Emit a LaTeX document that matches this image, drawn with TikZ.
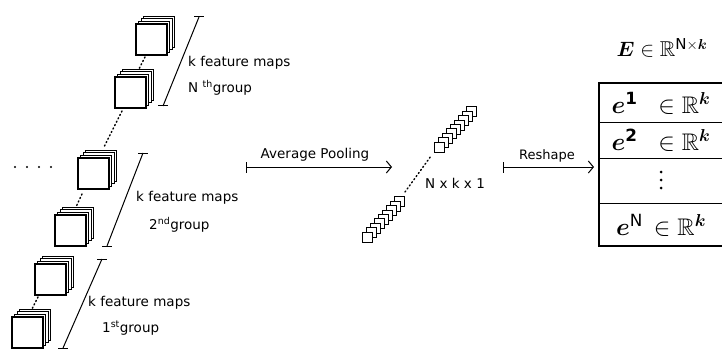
\documentclass[tikz,border=0pt]{standalone}
\usepackage{amsmath,amssymb,bm}
\usepackage{fontspec}
\setmainfont{DejaVu Sans}
\usetikzlibrary{arrows.meta}

\tikzset{
  % a stack of k feature maps: front map at the pic origin (top-left corner)
  fmstack/.pic={
    \foreach \i in {3,2,1}
      \draw[fill=white, line width=0.8pt] (2.6*\i,-2.6*\i) rectangle ++(31,31);
    \draw[fill=white, line width=1.3pt] (0,0) rectangle ++(31,31);
  },
  cube/.style={draw, fill=white, line width=0.9pt},
  dots/.style={line width=1.4pt, dash pattern=on 1.2pt off 2.6pt, line cap=round},
  bracket/.style={line width=1pt},
  lbl/.style={font=\fontsize{13.5}{15}\selectfont, inner sep=0pt},
  arrowlbl/.style={font=\fontsize{13.5}{15}\selectfont, inner sep=0pt},
  flow/.style={line width=1pt, {Bar[width=11pt]}-{Straight Barb[length=5pt,width=12pt]}},
  mathcell/.style={font=\fontsize{24}{28}\selectfont, inner sep=0pt},
}

\begin{document}
\begin{tikzpicture}[x=1pt,y=-1pt]
\useasboundingbox (0,0) rectangle (722,350);

% ---------------- N-th group ----------------
\pic at (136,24) {fmstack};
\pic at (115,77) {fmstack};
\draw[dots] (145,57) -- (139,69);
\draw[dots] (122,111) -- (104,147);
\coordinate (nt) at (199,17);
\coordinate (nb) at (163,106);
\draw[bracket] (nt) -- (nb);
\draw[bracket] ([xshift=-5pt]nt) -- ([xshift=5pt]nt);
\draw[bracket] ([xshift=-5pt]nb) -- ([xshift=5pt]nb);
\node[lbl, anchor=west] (nlab1) at (188,63) {k feature maps};
\node[lbl, anchor=west] (nlab2) at (188,88) {N \textsuperscript{th}group};

% ---------------- 2nd group ----------------
\foreach \j in {0,1,2,3}
  \fill (15+12*\j,167) circle (1.1pt);
\pic at (78,158) {fmstack};
\pic at (55,215) {fmstack};
\draw[dots] (82,194) -- (76,207);
\coordinate (st) at (143,153);
\coordinate (sb) at (107,246);
\draw[bracket] (st) -- (sb);
\draw[bracket] ([xshift=-5pt]st) -- ([xshift=5pt]st);
\draw[bracket] ([xshift=-5pt]sb) -- ([xshift=5pt]sb);
\node[lbl, anchor=west] (slab1) at (136,198) {k feature maps};
\node[lbl, anchor=west] (slab2) at (149,225) {2\textsuperscript{nd}group};

% ---------------- 1st group ----------------
\pic at (35,264) {fmstack};
\pic at (12,317) {fmstack};
\draw[dots] (38,297) -- (32,309);
\coordinate (ft) at (102,259);
\coordinate (fb) at (63,348);
\draw[bracket] (ft) -- (fb);
\draw[bracket] ([xshift=-5pt]ft) -- ([xshift=5pt]ft);
\draw[bracket] ([xshift=-5pt]fb) -- ([xshift=5pt]fb);
\node[lbl, anchor=west] (flab1) at (88,303) {k feature maps};
\node[lbl, anchor=west] (flab2) at (102,328) {1\textsuperscript{st}group};

% ---------------- average pooling ----------------
\coordinate (ap0) at (246,167);
\coordinate (ap1) at (392,167);
\draw[flow] (ap0) -- (ap1);
\node[arrowlbl] (aplab) at (315,155) {Average Pooling};

% pooled vectors (N x k x 1)
\foreach \i in {8,7,...,0}
  \draw[cube] (362+4*\i,232-4.4*\i) rectangle ++(10,10);
\foreach \i in {8,7,...,0}
  \draw[cube] (434+4*\i,142-4.4*\i) rectangle ++(10,10);
\draw[dots] (405,192) -- (431,156);
\node[lbl, anchor=west] (pdim) at (425,183) {N x k x 1};

% ---------------- reshape ----------------
\coordinate (rs0) at (503,167);
\coordinate (rs1) at (594,167);
\draw[flow] (rs0) -- (rs1);
\node[font=\fontsize{13}{15}\selectfont, inner sep=0pt] (rslab) at (547,156) {Reshape};

% embedding matrix E (open towards the right border)
\node[font=\fontsize{21.5}{25}\selectfont, inner sep=0pt] (Etitle) at (662,48)
  {$\bm{E}\in\mathbb{R}^{\mathrm{N}\times\bm{k}}$};
\draw[line width=1.2pt] (722,83) -- (599,83) -- (599,246) -- (722,246);
\foreach \yy in {122,158,203}
  \draw[line width=1pt] (599,\yy) -- (722,\yy);
\node[mathcell] (row1) at (661,103) {$\bm{e}^{\mathbf{1}}\;\;\in\mathbb{R}^{\bm{k}}$};
\node[mathcell] (row2) at (661,140) {$\bm{e}^{\mathbf{2}}\;\;\in\mathbb{R}^{\bm{k}}$};
\foreach \yy in {172,180,188}
  \fill (661,\yy) circle (1.5pt);
\node[mathcell] (row4) at (661,225) {$\bm{e}^{\mathrm{N}}\,\in\mathbb{R}^{\bm{k}}$};
\end{tikzpicture}
\end{document}
